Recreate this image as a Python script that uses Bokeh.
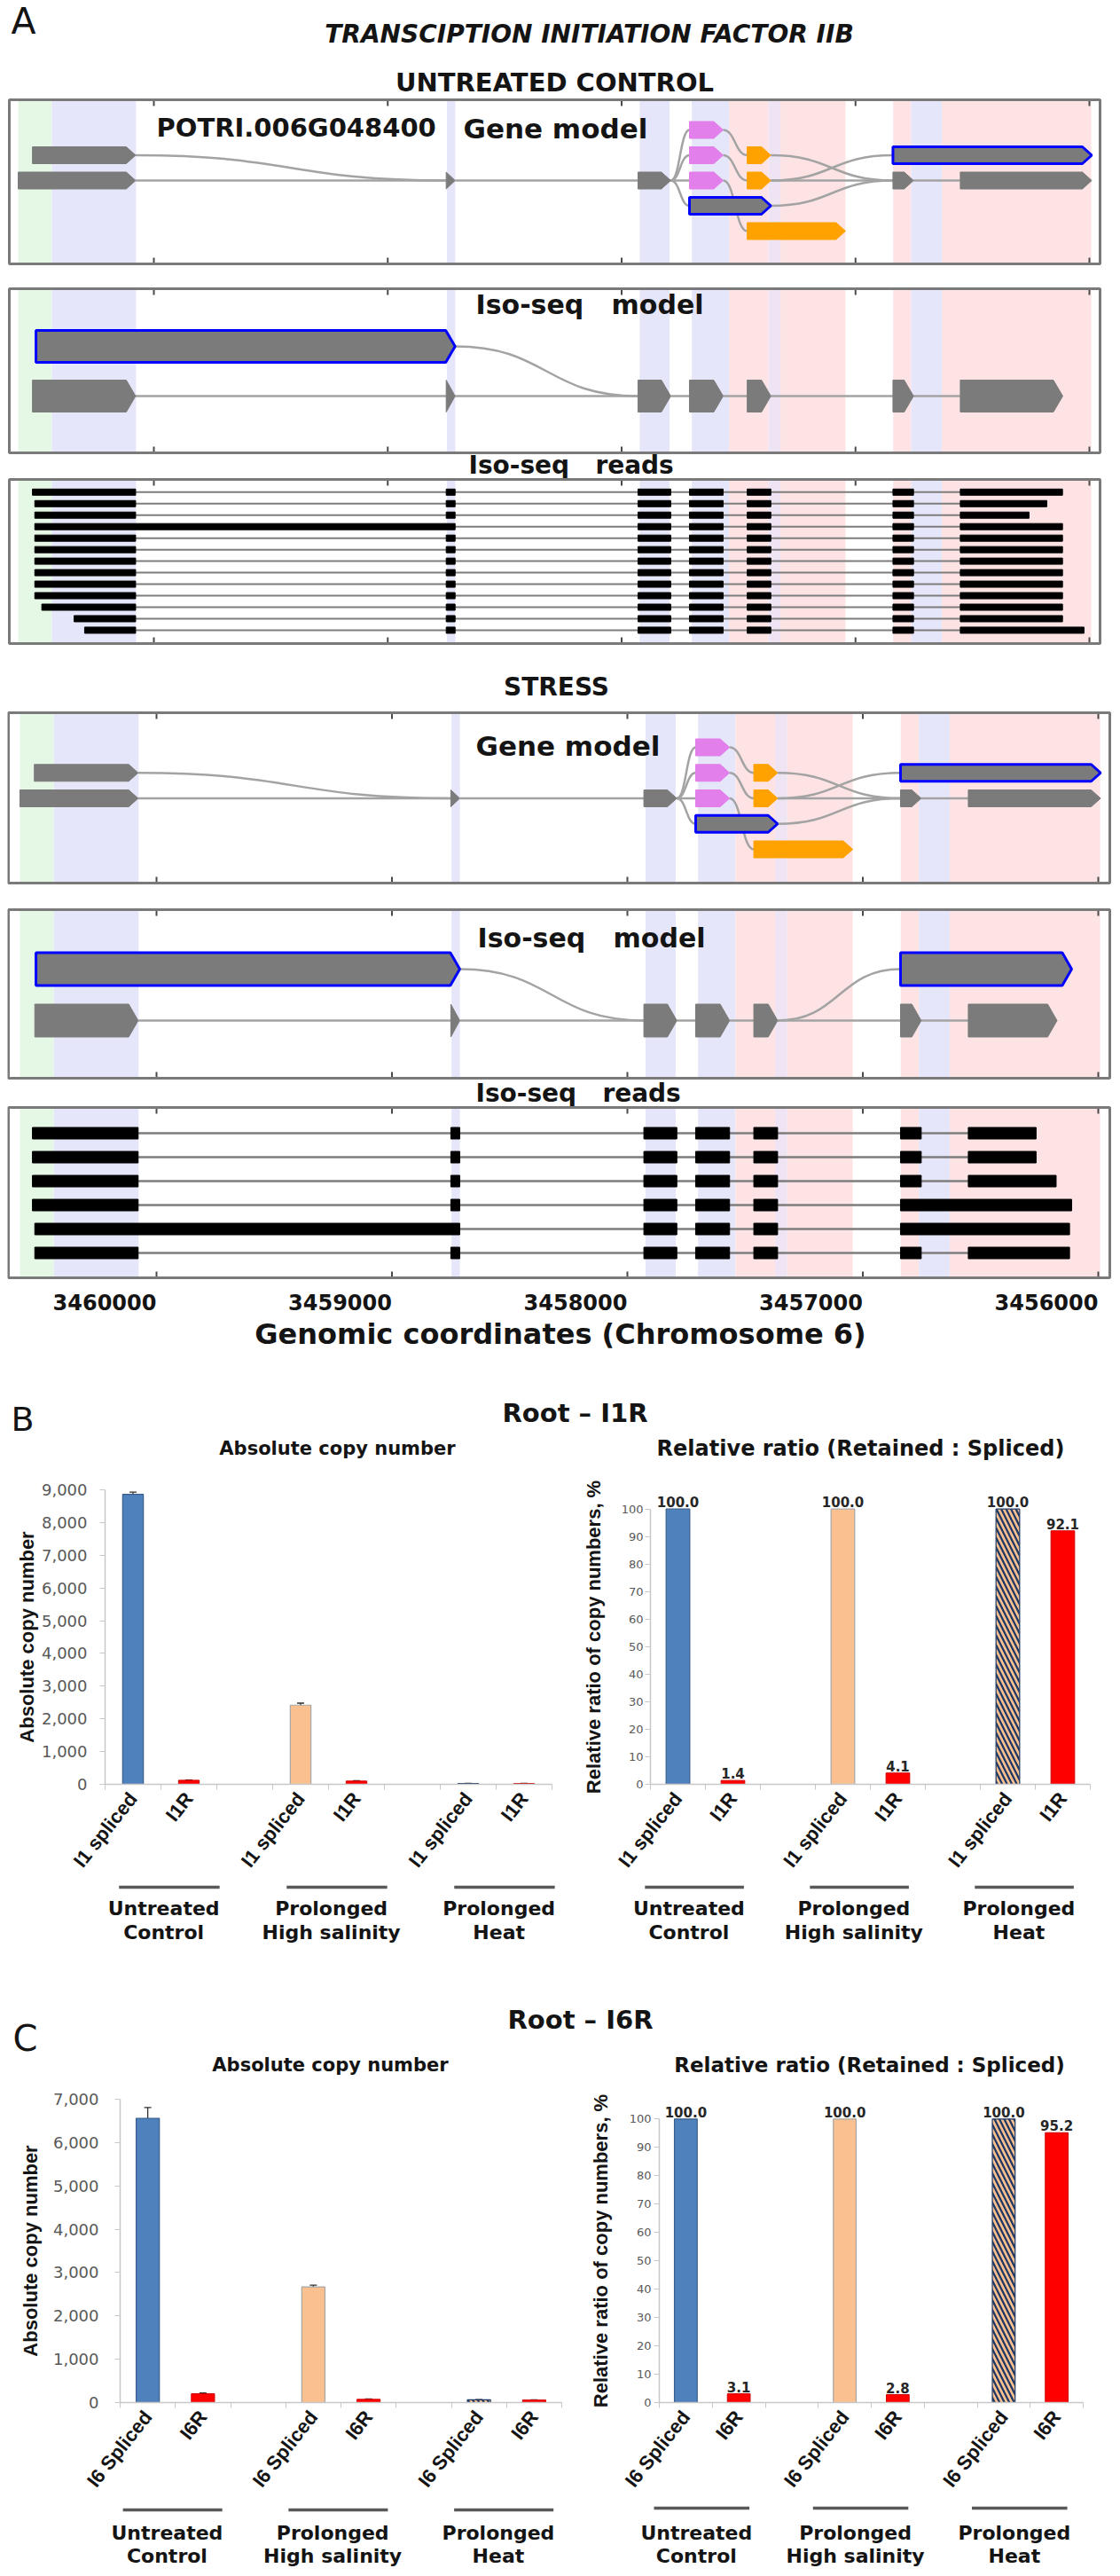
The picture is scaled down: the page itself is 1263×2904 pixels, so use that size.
from bokeh.plotting import figure
from bokeh.models import (Range1d, FixedTicker, ColumnDataSource, Whisker, TeeHead, Spacer,
                          NumeralTickFormatter)
from bokeh.layouts import column, row
from bokeh.embed import file_html
from bokeh.resources import INLINE
from bokeh.core.properties import value

# ======================= PANEL A DATA (Chromosome 6 coordinates) =======================
genome_ticks = [3460000, 3459000, 3458000, 3457000, 3456000]

band_start = [3460580, 3460436, 3458747, 3457923, 3457700, 3457541, 3457373, 3457321, 3456839, 3456762, 3456631]
band_end   = [3460436, 3460076, 3458711, 3457795, 3457541, 3457373, 3457321, 3457043, 3456762, 3456631, 3455992]
band_kind  = ["green", "lavender", "lavender", "lavender", "lavender", "pink", "mixed", "pink", "pink", "lavender", "pink"]

# gene model (same annotation for both conditions)
gene_exon_start = [3460580, 3460519, 3458750, 3457930, 3457710, 3457710, 3457710, 3457710, 3457463, 3457463, 3457463, 3456840, 3456840, 3456552]
gene_exon_end   = [3460078, 3460078, 3458712, 3457790, 3457566, 3457566, 3457566, 3457362, 3457362, 3457362, 3457043, 3455990, 3456752, 3455990]
gene_exon_row   = [2, 1, 2, 2, 0, 1, 2, 3, 1, 2, 4, 1, 2, 2]
gene_exon_kind  = ["grey", "grey", "grey", "grey", "magenta", "magenta", "magenta", "retained",
                   "orange", "orange", "orange", "retained", "grey", "grey"]
gene_junc_from     = [3460078, 3460078, 3458712, 3457790, 3457790, 3457790, 3457790, 3457566, 3457566, 3457566, 3457362, 3457362, 3457362, 3457362, 3456752]
gene_junc_from_row = [1, 2, 2, 2, 2, 2, 2, 0, 1, 2, 1, 2, 2, 3, 2]
gene_junc_to       = [3458750, 3458750, 3457930, 3457710, 3457710, 3457710, 3457710, 3457463, 3457463, 3457463, 3456840, 3456840, 3456840, 3456840, 3456552]
gene_junc_to_row   = [2, 2, 2, 0, 1, 2, 3, 1, 2, 4, 2, 1, 2, 2, 2]

# Iso-seq model, untreated control
iso_u_exon_start = [3460504, 3460519, 3458750, 3457930, 3457710, 3457463, 3456840, 3456552]
iso_u_exon_end   = [3458712, 3460078, 3458712, 3457790, 3457566, 3457362, 3456752, 3456114]
iso_u_exon_row   = [0, 1, 1, 1, 1, 1, 1, 1]
iso_u_exon_kind  = ["retained", "grey", "grey", "grey", "grey", "grey", "grey", "grey"]
iso_u_junc_from     = [3458712, 3460078, 3458712, 3457790, 3457566, 3457362, 3456752]
iso_u_junc_from_row = [0, 1, 1, 1, 1, 1, 1]
iso_u_junc_to       = [3457930, 3458750, 3457930, 3457710, 3457463, 3456840, 3456552]
iso_u_junc_to_row   = [1, 1, 1, 1, 1, 1, 1]

# Iso-seq model, stress
iso_s_exon_start = [3460512, 3456840, 3460517, 3458750, 3457930, 3457710, 3457463, 3456840, 3456552]
iso_s_exon_end   = [3458712, 3456113, 3460078, 3458712, 3457790, 3457566, 3457362, 3456752, 3456175]
iso_s_exon_row   = [0, 0, 1, 1, 1, 1, 1, 1, 1]
iso_s_exon_kind  = ["retained", "retained", "grey", "grey", "grey", "grey", "grey", "grey", "grey"]
iso_s_junc_from     = [3458712, 3457362, 3460078, 3458712, 3457790, 3457566, 3457362, 3456752]
iso_s_junc_from_row = [0, 1, 1, 1, 1, 1, 1, 1]
iso_s_junc_to       = [3457930, 3456840, 3458750, 3457930, 3457710, 3457463, 3456840, 3456552]
iso_s_junc_to_row   = [1, 0, 1, 1, 1, 1, 1, 1]

# canonical exons used by the Iso-seq reads (first start / last end vary per read)
read_exon_start = [None, 3458750, 3457930, 3457710, 3457463, 3456840, 3456552]
read_exon_end   = [3460078, 3458712, 3457790, 3457566, 3457362, 3456752, None]

reads_u_first_start = [3460519, 3460509, 3460509, 3460509, 3460509, 3460509, 3460509,
                       3460509, 3460509, 3460509, 3460479, 3460341, 3460296]
reads_u_last_end    = [3456115, 3456182, 3456258, 3456115, 3456115, 3456115, 3456115,
                       3456115, 3456115, 3456115, 3456115, 3456115, 3456023]
reads_u_retained    = [[], [], [], [1], [], [], [], [], [], [], [], [], []]

reads_s_first_start = [3460527, 3460527, 3460527, 3460527, 3460517, 3460517]
reads_s_last_end    = [3456264, 3456264, 3456179, 3456113, 3456122, 3456122]
reads_s_retained    = [[], [], [], [6], [1, 6], []]

# ======================= PANELS B / C DATA =======================
conditions = ["Untreated Control", "Prolonged High salinity", "Prolonged Heat"]

b_isoforms = ["I1 spliced", "I1R"]
b_abs_spliced = [8860, 2420, 26]
b_abs_spliced_err = [70, 60, 4]
b_abs_retained = [124, 99, 24]
b_abs_retained_err = [10, 10, 3]
b_rel_spliced = [100.0, 100.0, 100.0]
b_rel_retained = [1.4, 4.1, 92.1]

c_isoforms = ["I6 Spliced", "I6R"]
c_abs_spliced = [6560, 2670, 62]
c_abs_spliced_err = [250, 40, 6]
c_abs_retained = [205, 75, 59]
c_abs_retained_err = [15, 8, 5]
c_rel_spliced = [100.0, 100.0, 100.0]
c_rel_retained = [3.1, 2.8, 95.2]

# ======================= STYLES / LAYOUT =======================
BAND_COLORS = {"green": "#e5f8e5", "lavender": "#e6e6fa", "pink": "#fde3e3", "mixed": "#eee4f3"}
EXON_FILL = {"grey": "#7b7b7b", "magenta": "#e27fea", "orange": "#ffa200", "retained": "#7b7b7b"}
EXON_LINE = {"grey": "#7b7b7b", "magenta": "#e27fea", "orange": "#ffa200", "retained": "#0000ff"}
EXON_LW = {"grey": 1, "magenta": 1, "orange": 1, "retained": 3}
SPLICED_FILL = ["#4f81bd", "#fac090", "#fac090"]
SPLICED_LINE = ["#385d8a", "#a6a6a6", "#1f3864"]
SPLICED_HATCH = ["blank", "blank", "left_diagonal_line"]
RETAINED_FILL = "#ff0000"
RETAINED_LINE = "#d00000"
TXT = "#141414"
W = 1247          # figure width (page x 8 .. 1255)
SP = "\u00a0"

# page-pixel <-> genome scale of the two sections (tick 3460000 position, px per bp)
U_T0, U_PX = 173.0, 0.26375
S_T0, S_PX = 176.0, 0.2655
g_u = lambda xp: 3460000 - (xp - U_T0) / U_PX
g_s = lambda xp: 3460000 - (xp - S_T0) / S_PX


def genome_fig(xr, y_top, y_bottom, bottom_border=0, labelled=False):
    p = figure(width=W, height=int(y_bottom - y_top) + bottom_border, x_range=xr,
               y_range=Range1d(y_bottom, y_top), min_border=0, min_border_bottom=bottom_border,
               x_axis_location="below" if labelled else None, y_axis_location=None,
               outline_line_color=None, toolbar_location=None, output_backend="svg", title=None)
    p.grid.visible = False
    return p


def gtext(p, x, y, s, size, style="bold", align="left", font="DejaVu Sans"):
    p.text(x=[x], y=[y], text=[s], text_font=value(font), text_font_style=style,
           text_font_size=f"{size}px", text_align=align, text_baseline="middle", text_color=TXT)


def draw_box(p, top, bottom, left_g, right_g):
    p.quad(left=band_start, right=band_end, top=top, bottom=bottom,
           fill_color=[BAND_COLORS[k] for k in band_kind], line_color=None)
    n = len(genome_ticks)
    p.segment(x0=genome_ticks, y0=[top] * n, x1=genome_ticks, y1=[top + 7] * n,
              line_color="#4a4a4a", line_width=2)
    p.segment(x0=genome_ticks, y0=[bottom - 7] * n, x1=genome_ticks, y1=[bottom] * n,
              line_color="#4a4a4a", line_width=2)
    p.quad(left=[left_g], right=[right_g], top=[top], bottom=[bottom], fill_color=None,
           line_color="#7a7a7a", line_width=3)


def draw_model(p, starts, ends, rows, kinds, jf, jfr, jt, jtr, y0, dy, h, tip=40,
               jcolor="#a3a3a3", jwidth=2.5):
    ry = lambda r: y0 + r * dy
    mids = [(a + b) / 2 for a, b in zip(jf, jt)]
    p.bezier(x0=jf, y0=[ry(r) for r in jfr], x1=jt, y1=[ry(r) for r in jtr],
             cx0=mids, cy0=[ry(r) for r in jfr], cx1=mids, cy1=[ry(r) for r in jtr],
             line_color=jcolor, line_width=jwidth)
    xs, ys = [], []
    for s, e, r in zip(starts, ends, rows):
        yc = ry(r)
        t = min(tip, s - e)
        xs.append([s, e + t, e, e + t, s])
        ys.append([yc - h / 2, yc - h / 2, yc, yc + h / 2, yc + h / 2])
    src = ColumnDataSource(dict(xs=xs, ys=ys,
                                fill=[EXON_FILL[k] for k in kinds],
                                line=[EXON_LINE[k] for k in kinds],
                                lw=[EXON_LW[k] for k in kinds]))
    p.patches("xs", "ys", source=src, fill_color="fill", line_color="line", line_width="lw")


def read_blocks(first_start, last_end, retained):
    st = list(read_exon_start)
    en = list(read_exon_end)
    st[0] = first_start
    en[-1] = last_end
    blocks = []
    i = 0
    while i < len(st):
        j = i
        while (j + 1) in retained:
            j += 1
        blocks.append((st[i], en[j]))
        i = j + 1
    return blocks


def draw_reads(p, first_starts, last_ends, retained, y0, dy, h, lw):
    lx0, lx1, ly, bl, br, bt, bb = [], [], [], [], [], [], []
    for i, (fs, le, rt) in enumerate(zip(first_starts, last_ends, retained)):
        y = y0 + i * dy
        lx0.append(fs)
        lx1.append(le)
        ly.append(y)
        for s, e in read_blocks(fs, le, rt):
            bl.append(s)
            br.append(e)
            bt.append(y - h / 2)
            bb.append(y + h / 2)
    p.segment(x0=lx0, y0=ly, x1=lx1, y1=ly, line_color="#7d7d7d", line_width=lw)
    p.quad(left=bl, right=br, top=bt, bottom=bb, fill_color="#000000", line_color="#000000")


# ---------------- Panel A : untreated section (page y 0..728) ----------------
ua = genome_fig(Range1d(g_u(8), g_u(8 + W)), 0, 728)
gtext(ua, g_u(12), 23, "A", 41, style="normal")
gtext(ua, g_u(664), 38, "TRANSCIPTION INITIATION FACTOR IIB", 28, style="bold italic", align="center")
gtext(ua, g_u(625), 92, "UNTREATED CONTROL", 29, align="center")

draw_box(ua, 112, 297, g_u(10), g_u(1240))
draw_model(ua, gene_exon_start, gene_exon_end, gene_exon_row, gene_exon_kind,
           gene_junc_from, gene_junc_from_row, gene_junc_to, gene_junc_to_row, 146, 28.5, 19)
gtext(ua, g_u(176), 143, "POTRI.006G048400", 29)
gtext(ua, g_u(522), 144, "Gene model", 31)

draw_box(ua, 325, 510, g_u(10), g_u(1240))
draw_model(ua, iso_u_exon_start, iso_u_exon_end, iso_u_exon_row, iso_u_exon_kind,
           iso_u_junc_from, iso_u_junc_from_row, iso_u_junc_to, iso_u_junc_to_row, 390, 56, 36)
gtext(ua, g_u(536), 343, "Iso-seq " + SP * 2 + "model", 30)

gtext(ua, g_u(528), 524, "Iso-seq " + SP * 2 + "reads", 28)
draw_box(ua, 540, 725, g_u(10), g_u(1240))
draw_reads(ua, reads_u_first_start, reads_u_last_end, reads_u_retained, 554.3, 12.97, 7, 2)

# ---------------- Panel A : stress section (page y 728..1442 + axis) ----------------
sa = genome_fig(Range1d(g_s(8), g_s(8 + W)), 728, 1442, bottom_border=88, labelled=True)
gtext(sa, g_s(627), 774, "STRESS", 28, align="center")

draw_box(sa, 803, 995, g_s(9), g_s(1251))
draw_model(sa, gene_exon_start, gene_exon_end, gene_exon_row, gene_exon_kind,
           gene_junc_from, gene_junc_from_row, gene_junc_to, gene_junc_to_row, 842, 28.75, 19)
gtext(sa, g_s(536), 840, "Gene model", 31)

draw_box(sa, 1025, 1215, g_s(9), g_s(1251))
draw_model(sa, iso_s_exon_start, iso_s_exon_end, iso_s_exon_row, iso_s_exon_kind,
           iso_s_junc_from, iso_s_junc_from_row, iso_s_junc_to, iso_s_junc_to_row, 1092, 58, 37)
gtext(sa, g_s(538), 1057, "Iso-seq " + SP * 2 + "model", 30)

gtext(sa, g_s(536), 1232, "Iso-seq " + SP * 2 + "reads", 28)
draw_box(sa, 1248, 1440, g_s(9), g_s(1251))
draw_reads(sa, reads_s_first_start, reads_s_last_end, reads_s_retained, 1277, 27, 13, 2.5)

# genomic axis: labels end at their tick (right-aligned) -> label anchors shifted half a label
LABEL_HALF_BP = 58.5 / S_PX
label_ticks = [t + LABEL_HALF_BP for t in genome_ticks]
bax = sa.below[0]
bax.ticker = FixedTicker(ticks=label_ticks)
bax.major_label_overrides = {lt: str(t) for lt, t in zip(label_ticks, genome_ticks)}
bax.major_tick_line_color = None
bax.minor_tick_line_color = None
bax.axis_line_color = None
bax.major_label_text_font_size = "24px"
bax.major_label_text_font = "DejaVu Sans"
bax.major_label_text_font_style = "bold"
bax.major_label_text_color = TXT
bax.major_label_standoff = 10
bax.axis_label = "Genomic coordinates (Chromosome 6)"
bax.axis_label_text_font = "DejaVu Sans"
bax.axis_label_text_font_style = "bold"
bax.axis_label_text_font_size = "32px"
bax.axis_label_text_color = TXT
bax.axis_label_standoff = 5


# ---------------- Panels B / C ----------------
def text_fig(w, h):
    p = figure(width=w, height=h, x_range=Range1d(0, w), y_range=Range1d(h, 0), min_border=0,
               x_axis_location=None, y_axis_location=None, outline_line_color=None,
               toolbar_location=None, output_backend="svg", title=None)
    p.grid.visible = False
    return p


def bar_chart(isoforms, spliced, retained, s_err, r_err, g):
    rel = g["rel"]
    p = figure(width=g["w"], height=g["top"] + g["fh"] + g["bottom"],
               x_range=Range1d(0.5, 8.5), y_range=Range1d(0, g["yend"]),
               min_border_left=g["left"], min_border_right=g["w"] - g["left"] - g["fw"],
               min_border_top=g["top"], min_border_bottom=g["bottom"],
               toolbar_location=None, output_backend="svg", outline_line_color=None, title=None)
    p.grid.visible = False
    xs_s = [3 * i + 1 for i in range(len(spliced))]
    xs_r = [3 * i + 2 for i in range(len(retained))]
    src_s = ColumnDataSource(dict(x=xs_s, top=spliced, fill=SPLICED_FILL, line=SPLICED_LINE,
                                  hatch=SPLICED_HATCH))
    p.vbar(x="x", top="top", width=g["bw"], source=src_s, fill_color="fill", line_color="line",
           line_width=1.2, hatch_pattern="hatch", hatch_color="#1f3864", hatch_weight=2.3,
           hatch_scale=11)
    p.vbar(x=xs_r, top=retained, width=g["bw"], fill_color=RETAINED_FILL,
           line_color=RETAINED_LINE, line_width=1)
    if not rel:
        esrc = ColumnDataSource(dict(
            x=xs_s + xs_r,
            upper=[v + e for v, e in zip(spliced + retained, s_err + r_err)],
            lower=[v - e for v, e in zip(spliced + retained, s_err + r_err)]))
        p.add_layout(Whisker(source=esrc, base="x", upper="upper", lower="lower",
                             line_color="#303030", line_width=1.3,
                             upper_head=TeeHead(size=8, line_color="#303030", line_width=1.3),
                             lower_head=TeeHead(size=8, line_color="#303030", line_width=1.3)))
    else:
        vals = spliced + retained
        p.text(x=xs_s + xs_r, y=vals, text=[f"{v:.1f}" for v in vals], text_align="center",
               text_baseline="bottom", y_offset=-2, text_font=value("DejaVu Sans"),
               text_font_style="bold", text_font_size="15px", text_color="#262626")
    yax = p.yaxis[0]
    yax.ticker = FixedTicker(ticks=list(range(0, g["ymax"] + 1, g["ystep"])))
    yax.bounds = (0, g["ymax"])
    if not rel:
        yax.formatter = NumeralTickFormatter(format="0,0")
    yax.axis_line_color = "#c8c8c8"
    yax.axis_line_width = 1.5
    yax.major_tick_out = 6
    yax.major_tick_in = 0
    yax.major_tick_line_color = "#c8c8c8"
    yax.minor_tick_line_color = None
    yax.major_label_text_font = "DejaVu Sans"
    yax.major_label_text_font_size = g["tick_size"]
    yax.major_label_text_color = "#595959"
    yax.major_label_standoff = g["tick_standoff"]
    yax.axis_label = g["ylabel"]
    yax.axis_label_text_font = "Liberation Sans"
    yax.axis_label_text_font_style = "bold"
    yax.axis_label_text_font_size = "22px"
    yax.axis_label_text_color = TXT
    yax.axis_label_standoff = g["label_standoff"]
    xax = p.xaxis[0]
    xax.ticker = FixedTicker(ticks=sorted(xs_s + xs_r), minor_ticks=[0.5 + i for i in range(9)])
    overrides = {x: isoforms[0] for x in xs_s}
    overrides.update({x: isoforms[1] for x in xs_r})
    xax.major_label_overrides = overrides
    xax.major_label_orientation = 0.9
    xax.major_tick_line_color = None
    xax.minor_tick_out = 6
    xax.minor_tick_in = 0
    xax.minor_tick_line_color = "#c8c8c8"
    xax.axis_line_color = "#c8c8c8"
    xax.axis_line_width = 1.5
    xax.major_label_text_font = "Liberation Sans"
    xax.major_label_text_font_style = "bold"
    xax.major_label_text_font_size = "22px"
    xax.major_label_text_color = TXT
    xax.major_label_standoff = 6
    return p


def group_fig(g, gh, line_y, y1, y2, shift, size=22):
    slot = g["fw"] / 8.0
    right = g["w"] - g["left"] - g["fw"]
    xr = Range1d(0.5 - g["left"] / slot, 8.5 + right / slot)
    p = figure(width=g["w"], height=gh, x_range=xr, y_range=Range1d(gh, 0), min_border=0,
               x_axis_location=None, y_axis_location=None, outline_line_color=None,
               toolbar_location=None, output_backend="svg", title=None)
    p.grid.visible = False
    centers = [3 * i + 1.5 + shift for i in range(len(conditions))]
    p.segment(x0=[c - 0.9 for c in centers], y0=line_y, x1=[c + 0.9 for c in centers],
              y1=line_y, line_width=3.5, line_color="#595959")
    first = [c.split(" ", 1)[0] for c in conditions]
    second = [c.split(" ", 1)[1] for c in conditions]
    for txt, yy in ((first, y1), (second, y2)):
        p.text(x=[c - 0.1 for c in centers], y=yy, text=txt, text_align="center",
               text_baseline="middle", text_font=value("DejaVu Sans"),
               text_font_style="bold", text_font_size=f"{size}px", text_color=TXT)
    return p


def put_text(p, x, y, s, size, style="bold", align="left"):
    p.text(x=[x], y=[y], text=[s], text_font=value("DejaVu Sans"), text_font_style=style,
           text_font_size=f"{size}px", text_align=align, text_baseline="middle",
           text_color=TXT)


gBL = dict(rel=False, w=642, left=110, fw=504, top=27, fh=332, bottom=109, yend=9000, ymax=9000,
           ystep=1000, tick_size="18px", tick_standoff=14, ylabel="Absolute copy number",
           label_standoff=1, bw=0.37)
gBR = dict(rel=True, w=605, left=83, fw=496, top=16, fh=343, bottom=109, yend=107, ymax=100,
           ystep=10, tick_size="13px", tick_standoff=2, ylabel="Relative ratio of copy numbers, %",
           label_standoff=16, bw=0.43)
gCL = dict(rel=False, w=642, left=127, fw=498, top=10, fh=354, bottom=114, yend=7000, ymax=7000,
           ystep=1000, tick_size="18px", tick_standoff=18, ylabel="Absolute copy number",
           label_standoff=10, bw=0.42)
gCR = dict(rel=True, w=605, left=93, fw=478, top=22, fh=342, bottom=114, yend=107, ymax=100,
           ystep=10, tick_size="13px", tick_standoff=3, ylabel="Relative ratio of copy numbers, %",
           label_standoff=17, bw=0.43)

# header B : page y 1530..1652
hb = text_fig(W, 122)
put_text(hb, 4, 69, "B", 38, style="normal")
put_text(hb, 640, 62, "Root \u2013 I1R", 29, align="center")
put_text(hb, 372, 102, "Absolute copy number", 21, align="center")
put_text(hb, 962, 102, "Relative ratio (Retained : Spliced)", 24, align="center")

bl = bar_chart(b_isoforms, b_abs_spliced, b_abs_retained, b_abs_spliced_err, b_abs_retained_err, gBL)
br = bar_chart(b_isoforms, b_rel_spliced, b_rel_retained, [0, 0, 0], [0, 0, 0], gBR)
blg = group_fig(gBL, 75, 7, 31, 58, 0.15)
brg = group_fig(gBR, 75, 7, 31, 58, -0.2)

# header C : page y 2195..2344
hc = text_fig(W, 149)
put_text(hc, 6, 102, "C", 40, style="normal")
put_text(hc, 646, 81, "Root \u2013 I6R", 29, align="center")
put_text(hc, 364, 132, "Absolute copy number", 21, align="center")
put_text(hc, 972, 132, "Relative ratio (Retained : Spliced)", 23, align="center")

cl = bar_chart(c_isoforms, c_abs_spliced, c_abs_retained, c_abs_spliced_err, c_abs_retained_err, gCL)
cr = bar_chart(c_isoforms, c_rel_spliced, c_rel_retained, [0, 0, 0], [0, 0, 0], gCR)
clg = group_fig(gCL, 74, 7, 33, 59, -0.05)
crg = group_fig(gCR, 74, 5, 33, 59, -0.2)

content = column(ua, sa, hb, row(bl, br), row(blg, brg), hc, row(cl, cr), row(clg, crg))
layout = row(Spacer(width=8, height=10), content)

open("out.html", "w").write(file_html(layout, INLINE))
